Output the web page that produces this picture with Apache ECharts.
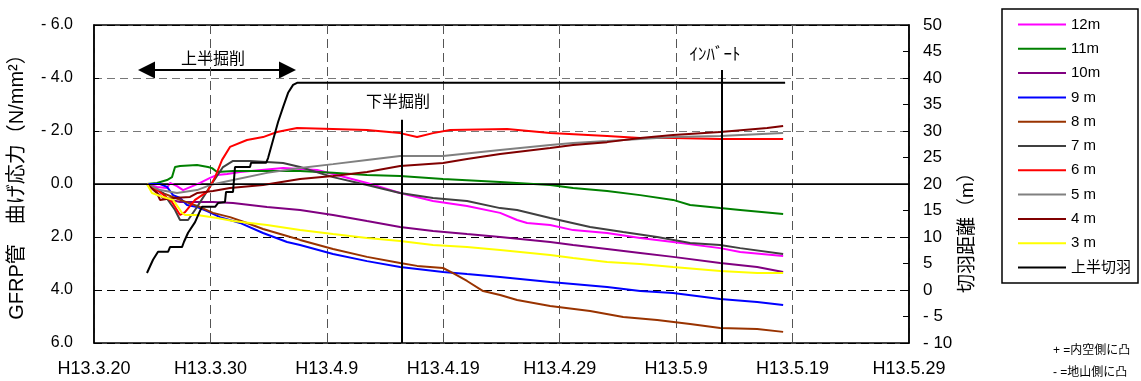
<!DOCTYPE html>
<html>
<head>
<meta charset="utf-8">
<script src="https://cdn.jsdelivr.net/npm/echarts@6/dist/echarts.min.js"></script>
<style>
  html, body { margin: 0; padding: 0; background: #fff; }
  #chart { width: 1141px; height: 381px; }
</style>
</head>
<body>
<div id="chart"></div>
<script>
// x = days since H13.3.20
const dateLabels = ['H13.3.20', 'H13.3.30', 'H13.4.9', 'H13.4.19', 'H13.4.29', 'H13.5.9', 'H13.5.19', 'H13.5.29'];

// bending stress (N/mm2), + = convex to inner side
const s12m = [[4.55,0],[5.41,0.11],[6.27,0.15],[6.53,-0.04],[7.13,0.08],[7.65,0.23],[9.11,-0.04],[9.97,-0.23],[10.57,-0.34],[11.43,-0.38],[12.54,-0.45],[16.24,-0.60],[19.16,-0.53],[20.53,-0.38],[23.45,-0.04],[26.29,0.34],[29.12,0.64],[32.04,0.83],[34.88,1.09],[36.34,1.36],[37.2,1.47],[39.18,1.55],[41.15,1.74],[44.07,1.85],[46.91,2.04],[49.74,2.19],[53.78,2.42],[55.5,2.57],[59.19,2.72]];
const s11m = [[4.55,0],[5.41,-0.04],[6.27,-0.15],[6.7,-0.26],[6.96,-0.64],[7.39,-0.68],[8.85,-0.72],[9.79,-0.64],[10.14,-0.60],[10.57,-0.45],[11.94,-0.49],[14.86,-0.49],[17.7,-0.49],[20.53,-0.42],[23.45,-0.34],[26.29,-0.30],[29.98,-0.19],[34.88,-0.08],[39.18,0.04],[41.15,0.15],[44.07,0.26],[46.91,0.42],[49.74,0.60],[51.2,0.79],[53.78,0.91],[55.5,0.98],[59.19,1.13]];
const s10m = [[4.55,0],[5.93,0.53],[7.39,0.68],[10.22,0.68],[11.94,0.72],[14.86,0.87],[17.7,0.98],[20.53,1.17],[23.45,1.40],[26.29,1.62],[29.12,1.77],[32.04,1.89],[34.88,2.00],[39.18,2.19],[41.15,2.30],[44.07,2.45],[46.91,2.60],[49.74,2.75],[53.78,2.98],[56.96,3.13],[59.19,3.32]];
const s9m = [[4.55,0],[5.67,0],[6.27,0.11],[6.79,0.42],[7.39,0.53],[7.99,0.79],[8.85,0.87],[9.71,1.02],[10.82,1.25],[12.54,1.47],[14.52,1.85],[16.58,2.19],[17.7,2.30],[20.53,2.64],[23.45,2.91],[26.29,3.13],[29.98,3.32],[32.04,3.40],[34.88,3.51],[39.18,3.70],[41.15,3.77],[44.07,3.89],[46.91,4.04],[49.74,4.11],[53.78,4.34],[56.96,4.45],[59.19,4.57]];
const s8m = [[4.55,0],[5.67,0.30],[7.39,0.60],[9.11,0.87],[10.22,1.09],[11.68,1.25],[13.14,1.47],[14.52,1.70],[16.58,1.96],[17.7,2.11],[20.53,2.45],[23.45,2.75],[26.29,2.98],[27.75,3.09],[29.98,3.17],[30.84,3.36],[32.04,3.66],[33.42,4.04],[34.88,4.19],[36.34,4.38],[39.18,4.60],[42.61,4.79],[45.45,5.02],[48.37,5.13],[51.2,5.28],[53.78,5.43],[56.96,5.47],[59.19,5.58]];
const s7m = [[4.55,0],[5.93,0.34],[6.96,0.98],[7.39,1.36],[8.08,1.36],[8.85,0.87],[10.22,-0.08],[11.08,-0.64],[11.94,-0.87],[13.4,-0.87],[16.24,-0.79],[17.7,-0.64],[20.53,-0.26],[23.45,0.04],[26.29,0.34],[29.12,0.53],[32.04,0.64],[34.88,0.91],[36.34,0.98],[39.18,1.28],[42.61,1.62],[45.45,1.81],[48.37,2.00],[51.2,2.23],[53.78,2.30],[55.5,2.42],[59.19,2.64]];
const s6m = [[4.55,0],[5.67,0.30],[6.7,0.68],[7.39,1.17],[7.82,1.06],[8.68,0.60],[9.71,0.30],[10.4,-0.26],[11.0,-0.91],[11.68,-1.40],[13.14,-1.66],[14.52,-1.77],[15.72,-1.96],[17.44,-2.11],[20.53,-2.08],[23.45,-2.04],[26.29,-1.92],[27.75,-1.77],[29.12,-1.92],[30.58,-2.04],[35.48,-2.08],[39.18,-1.92],[44.07,-1.81],[46.91,-1.74],[49.74,-1.74],[53.78,-1.70],[59.19,-1.70]];
const s5m = [[4.55,0],[5.67,0.23],[7.13,0.34],[8.85,0.23],[9.97,0.04],[11.94,-0.15],[14.86,-0.42],[17.7,-0.60],[20.53,-0.75],[23.45,-0.91],[26.29,-1.06],[29.98,-1.06],[34.88,-1.28],[39.18,-1.47],[41.15,-1.55],[44.07,-1.62],[46.91,-1.70],[49.74,-1.77],[53.78,-1.81],[59.19,-1.92]];
const s4m = [[4.55,0],[5.41,0.34],[5.67,0.60],[6.79,0.53],[8.25,0.49],[8.85,0.34],[10.22,0.26],[11.68,0.15],[14.52,0.04],[17.7,-0.19],[20.53,-0.30],[23.45,-0.45],[26.29,-0.68],[29.98,-0.79],[32.04,-0.94],[34.88,-1.13],[39.18,-1.36],[41.15,-1.47],[44.07,-1.58],[46.91,-1.74],[49.74,-1.85],[53.78,-1.96],[57.82,-2.11],[59.19,-2.19]];
const s3m = [[4.55,0],[4.98,0.34],[5.93,0.49],[6.79,0.60],[7.22,0.87],[7.56,1.09],[7.82,1.17],[8.85,1.17],[10.57,1.28],[11.94,1.40],[14.86,1.55],[17.7,1.74],[20.53,1.89],[23.45,2.04],[26.29,2.15],[29.12,2.30],[32.04,2.38],[34.88,2.49],[39.18,2.68],[41.15,2.79],[44.07,2.94],[46.91,3.02],[49.74,3.13],[53.78,3.28],[56.96,3.36],[59.19,3.36]];

// face distance (m), right axis
const faceDist = [[4.55,3.2],[5.07,5.7],[5.5,7.2],[6.36,7.2],[6.53,8.1],[7.56,8.1],[7.73,9.1],[8.08,10.8],[8.68,12.8],[9.02,14.5],[9.28,15.7],[10.4,15.7],[10.65,16.4],[11.25,16.6],[11.34,18.5],[11.94,18.5],[12.11,23.2],[13.4,23.2],[13.49,24.0],[14.78,24.0],[14.95,24.9],[15.38,28.3],[15.81,31.7],[16.24,34.5],[16.67,37.2],[17.1,38.7],[17.44,39.1],[59.36,39.1]];

// event markers (day)
const lowerBenchDay = 26.4;
const invertDay = 53.9;

const font = "'Liberation Sans', Arial, 'Noto Sans CJK JP', sans-serif";

const stressSeries = [
  { name: '12m', data: s12m, color: '#FF00FF' },
  { name: '11m', data: s11m, color: '#008000' },
  { name: '10m', data: s10m, color: '#800080' },
  { name: '9 m', data: s9m, color: '#0000FF' },
  { name: '8 m', data: s8m, color: '#993300' },
  { name: '7 m', data: s7m, color: '#404040' },
  { name: '6 m', data: s6m, color: '#FF0000' },
  { name: '5 m', data: s5m, color: '#808080' },
  { name: '4 m', data: s4m, color: '#800000' },
  { name: '3 m', data: s3m, color: '#FFFF00' }
];

const chart = echarts.init(document.getElementById('chart'));

const series = stressSeries.map(function (s, i) {
  const item = {
    name: s.name,
    type: 'line',
    data: s.data,
    xAxisIndex: 0,
    yAxisIndex: 0,
    symbol: 'none',
    showSymbol: false,
    lineStyle: { color: s.color, width: 2 },
    itemStyle: { color: s.color },
    animation: false
  };
  if (i === 0) {
    item.markLine = {
      silent: true,
      symbol: 'none',
      label: { show: false },
      lineStyle: { color: '#000', width: 1, type: 'solid' },
      data: [{ yAxis: 0 }]
    };
  }
  return item;
});

series.push({
  name: '上半切羽',
  type: 'line',
  data: faceDist,
  yAxisIndex: 1,
  symbol: 'none',
  showSymbol: false,
  lineStyle: { color: '#000', width: 2 },
  itemStyle: { color: '#000' },
  animation: false,
  markLine: {
    silent: true,
    symbol: 'none',
    label: { show: false },
    lineStyle: { color: '#000', width: 2, type: 'solid' },
    data: [
      [{ xAxis: lowerBenchDay, yAxis: 32.1 }, { xAxis: lowerBenchDay, yAxis: -10 }],
      [{ xAxis: invertDay, yAxis: 41.5 }, { xAxis: invertDay, yAxis: -10 }]
    ]
  }
});

function signedLabel(v, digits) {
  const t = Math.abs(v).toFixed(digits);
  return v < 0 ? '- ' + t : t;
}

const option = {
  backgroundColor: '#fff',
  animation: false,
  grid: {
    left: 94, right: 232, top: 25, bottom: 38,
    show: true, borderColor: '#000', borderWidth: 1.5, backgroundColor: 'transparent'
  },
  legend: {
    orient: 'vertical',
    left: 1002, top: 9,
    padding: [7, 7, 7, 16],
    icon: 'rect',
    itemWidth: 48, itemHeight: 2, itemGap: 7.3,
    borderColor: '#000', borderWidth: 1.5,
    textStyle: { fontFamily: font, fontSize: 15, color: '#000', lineHeight: 17 },
    data: series.map(function (s) { return s.name; })
  },
  xAxis: {
    type: 'value',
    min: 0, max: 70, interval: 10,
    axisLine: { show: true, lineStyle: { color: '#000', width: 1.5 } },
    axisTick: { show: false },
    axisLabel: {
      margin: 17,
      hideOverlap: false,
      fontFamily: font, fontSize: 18, color: '#000',
      formatter: function (v) { return dateLabels[Math.round(v / 10)]; }
    },
    splitLine: { show: true, lineStyle: { color: '#555', width: 1, type: [9, 5] } }
  },
  yAxis: [
    {
      type: 'value',
      inverse: true,
      min: -6, max: 6, interval: 2,
      position: 'left',
      axisLine: { show: true, lineStyle: { color: '#000', width: 1.5 } },
      axisTick: { show: true, inside: true, length: 5, lineStyle: { color: '#000' } },
      axisLabel: {
        margin: 21, fontFamily: font, fontSize: 16, color: '#000',
        formatter: function (v) { return signedLabel(v, 1); }
      },
      splitLine: {
        show: true,
        lineStyle: { color: ['#000', '#777', '#777', 'rgba(0,0,0,0)', '#000', '#000', '#000'], width: 1, type: [8, 5] }
      }
    },
    {
      type: 'value',
      min: -10, max: 50, interval: 5,
      position: 'right',
      axisLine: { show: true, lineStyle: { color: '#000', width: 1.5 } },
      axisTick: { show: true, inside: true, length: 6, lineStyle: { color: '#000' } },
      axisLabel: {
        margin: 14, fontFamily: font, fontSize: 17, color: '#000',
        formatter: function (v) { return signedLabel(v, 0); }
      },
      splitLine: { show: false }
    }
  ],
  graphic: [
    {
      type: 'text', x: 17, y: 182, rotation: Math.PI / 2,
      style: { text: 'GFRP管　曲げ応力（N/mm²）', fontFamily: font, fontSize: 20, fill: '#000', align: 'center', verticalAlign: 'middle' }
    },
    {
      type: 'text', x: 968, y: 228, rotation: Math.PI / 2,
      style: { text: '切羽距離（m）', fontFamily: font, fontSize: 19, fill: '#000', align: 'center', verticalAlign: 'middle' }
    },
    {
      type: 'line', shape: { x1: 150, y1: 70, x2: 284, y2: 70 }, style: { stroke: '#000', lineWidth: 2 }
    },
    {
      type: 'polygon', shape: { points: [[138, 70], [155, 61.5], [155, 78.5]] }, style: { fill: '#000' }
    },
    {
      type: 'polygon', shape: { points: [[296, 70], [279, 61.5], [279, 78.5]] }, style: { fill: '#000' }
    },
    {
      type: 'text', x: 213, y: 60,
      style: { text: '上半掘削', fontFamily: font, fontSize: 16, fill: '#000', align: 'center', verticalAlign: 'middle' }
    },
    {
      type: 'text', x: 398, y: 103,
      style: { text: '下半掘削', fontFamily: font, fontSize: 16, fill: '#000', align: 'center', verticalAlign: 'middle' }
    },
    {
      type: 'text', x: 715, y: 55,
      style: { text: 'ｲﾝﾊﾞｰﾄ', fontFamily: font, fontSize: 17, fill: '#000', align: 'center', verticalAlign: 'middle' }
    },
    {
      type: 'text', x: 1053, y: 351,
      style: { text: '+ =内空側に凸', fontFamily: font, fontSize: 12, fill: '#000', align: 'left', verticalAlign: 'middle' }
    },
    {
      type: 'text', x: 1053, y: 373,
      style: { text: '- =地山側に凸', fontFamily: font, fontSize: 12, fill: '#000', align: 'left', verticalAlign: 'middle' }
    }
  ],
  series: series
};

chart.setOption(option);
</script>
</body>
</html>
